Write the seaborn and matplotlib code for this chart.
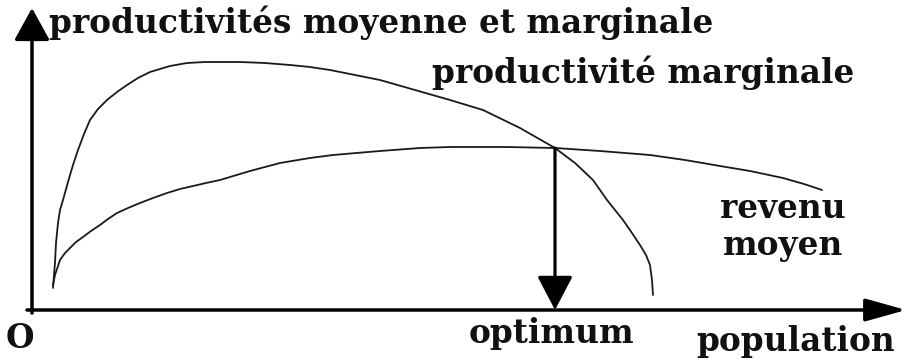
import matplotlib
matplotlib.use("Agg")
import matplotlib.pyplot as plt
import seaborn as sns

# courbe de productivité marginale (population, productivité)
marginal_x = [21, 22, 23, 24, 26, 28, 31, 36, 41, 46, 52, 58, 66, 75, 85, 95,
              106, 118, 138, 155, 173, 208, 233, 258, 278, 298, 323, 348, 383,
              418, 451, 488, 523, 543, 561, 568, 575, 583, 591, 600, 608, 614,
              618, 620, 621]
marginal_y = [22, 35, 47, 67, 87, 100, 110, 128, 145, 160, 176, 190, 201, 210,
              218, 225, 232, 238, 244, 247, 248, 248, 247, 245, 243, 240, 235,
              230, 220, 210, 200, 182, 162, 147, 130, 120, 110, 100, 90, 77, 65,
              55, 45, 30, 15]

# courbe du revenu moyen
moyen_x = [21, 23, 28, 33, 38, 44, 51, 59, 68, 76, 85, 96, 108, 121, 135, 148,
           161, 174, 188, 218, 248, 278, 301, 348, 388, 418, 475, 523, 568, 618,
           653, 688, 718, 751, 772, 790]
moyen_y = [25, 35, 50, 57, 62, 68, 73, 79, 85, 91, 97, 102, 107, 112, 117, 121,
           124, 127, 130, 139, 147, 152, 155, 159, 162, 163, 163, 162, 159, 155,
           150, 144, 139, 132, 126, 120]

optimum_x = 523
optimum_y = 162

sns.set_theme(style="white")
plt.rcParams["font.family"] = ["DejaVu Serif"]

fig = plt.figure(figsize=(9.06, 3.6), dpi=100)
ax = fig.add_axes([0, 0, 1, 1])
ax.set_xlim(-32, 874)
ax.set_ylim(-50, 310)
ax.axis("off")

line_kw = dict(color="#1a1a1a", linewidth=1.3, sort=False, estimator=None, ax=ax)
sns.lineplot(x=marginal_x, y=marginal_y, **line_kw)
sns.lineplot(x=moyen_x, y=moyen_y, **line_kw)

# axes fléchés
ax.annotate("", xy=(0, 302), xytext=(0, -3),
            arrowprops=dict(arrowstyle="-|>,head_length=2.0,head_width=1.1",
                            lw=2.5, color="black", shrinkA=0, shrinkB=0,
                            mutation_scale=10))
ax.annotate("", xy=(874, 0), xytext=(-5, 0),
            arrowprops=dict(arrowstyle="-|>,head_length=2.5,head_width=0.7",
                            lw=2.5, color="black", shrinkA=0, shrinkB=0,
                            mutation_scale=10))
ax.annotate("", xy=(optimum_x, 0), xytext=(optimum_x, optimum_y),
            arrowprops=dict(arrowstyle="-|>,head_length=2.1,head_width=1.1",
                            lw=2.3, color="black", shrinkA=0, shrinkB=0,
                            mutation_scale=10))

txt = dict(fontsize=23.6, fontweight="bold", color="#111111")
ax.text(17, 287, "productivités moyenne et marginale", ha="left", va="center", **txt)
ax.text(400, 237, "productivité marginale", ha="left", va="center", **txt)
ax.text(751, 101, "revenu", ha="center", va="center", **txt)
ax.text(751, 64, "moyen", ha="center", va="center", **txt)
ax.text(-12, -29, "O", ha="center", va="center", **txt)
ax.text(optimum_x - 4, -24, "optimum", ha="center", va="center", **txt)
ax.text(764, -31, "population", ha="center", va="center", **txt)

fig.savefig("out.png", dpi=100)
